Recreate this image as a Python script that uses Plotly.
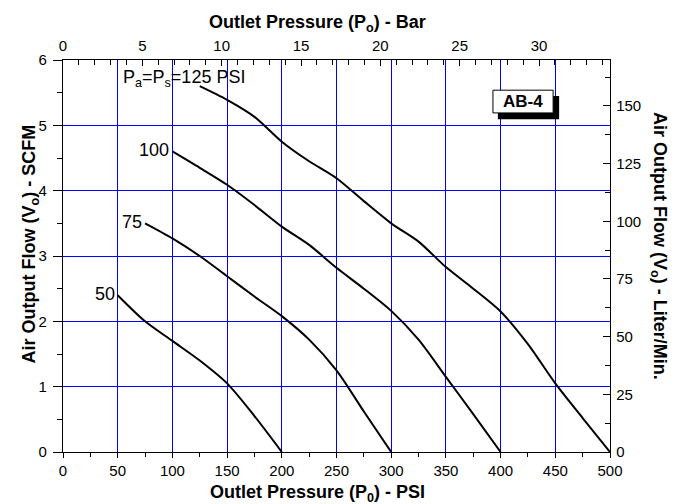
import plotly.graph_objects as go

# ---- data ----
psi_50 = [50, 75, 100, 125, 150, 175, 200]
scfm_50 = [2.4, 2.0, 1.7, 1.4, 1.05, 0.55, 0.0]

psi_75 = [75, 100, 125, 150, 175, 200, 225, 250, 275, 300]
scfm_75 = [3.5, 3.27, 3.0, 2.69, 2.38, 2.08, 1.72, 1.25, 0.62, 0.0]

psi_100 = [100, 125, 150, 175, 200, 225, 250, 275, 300, 325, 350, 375, 400]
scfm_100 = [4.6, 4.35, 4.09, 3.78, 3.45, 3.17, 2.82, 2.5, 2.16, 1.72, 1.15, 0.58, 0.0]

psi_125 = [125, 150, 175, 200, 225, 250, 275, 300, 325, 350, 375, 400, 425, 450, 475, 500]
scfm_125 = [5.6, 5.39, 5.13, 4.75, 4.45, 4.19, 3.84, 3.5, 3.22, 2.83, 2.5, 2.15, 1.65, 1.05, 0.52, 0.0]

series_labels = ["50", "75", "100", "P<sub>a</sub>=P<sub>s</sub>=125 PSI"]

psi_ticks = [0, 50, 100, 150, 200, 250, 300, 350, 400, 450, 500]
bar_ticks = [0, 5, 10, 15, 20, 25, 30]
scfm_ticks = [0, 1, 2, 3, 4, 5, 6]
lpm_ticks = [0, 25, 50, 75, 100, 125, 150]

PSI_PER_BAR = 14.5038
LPM_PER_SCFM = 28.3168
PSI_MAX = 500
SCFM_MAX = 6

FONT = "Liberation Sans, Arial, Helvetica, sans-serif"
GRID = "#0000FF"

fig = go.Figure()
curves = [(psi_50, scfm_50), (psi_75, scfm_75), (psi_100, scfm_100), (psi_125, scfm_125)]
for xs, ys in curves:
    fig.add_trace(go.Scatter(
        x=xs, y=ys, mode="lines",
        line=dict(color="black", width=2, shape="spline", smoothing=0.8),
        showlegend=False, hoverinfo="skip"))

# empty trace to activate secondary axes
fig.add_trace(go.Scatter(x=[None], y=[None], xaxis="x2", yaxis="y2",
                         showlegend=False, hoverinfo="skip"))

axis_common = dict(showline=True, linecolor="black", linewidth=1.3,
                   tickcolor="black", tickwidth=1, zeroline=False, automargin=False,
                   tickfont=dict(family=FONT, size=15, color="black"))

# page body has an 8px default margin -> figure is 8px smaller and offset
fig.update_layout(
    template="none",
    width=676, height=496,
    margin=dict(l=55, r=74, t=52, b=52, pad=0),
    paper_bgcolor="white", plot_bgcolor="white",
    font=dict(family=FONT, size=15, color="black"),
    showlegend=False,
    xaxis=dict(range=[0, PSI_MAX], tickmode="array", tickvals=psi_ticks,
               ticks="outside", ticklen=5, ticklabelstandoff=0,
               showgrid=True, gridcolor=GRID, gridwidth=1,
               minor=dict(tickmode="linear", tick0=0, dtick=25, ticks="outside",
                          ticklen=4, tickcolor="black", showgrid=False),
               **axis_common),
    xaxis2=dict(overlaying="x", side="top", range=[0, PSI_MAX / PSI_PER_BAR],
                tickmode="array", tickvals=bar_ticks,
                ticks="inside", ticklen=6, ticklabelstandoff=2, showgrid=False,
                minor=dict(tickmode="linear", tick0=0, dtick=1, ticks="inside",
                           ticklen=5, tickcolor="black", showgrid=False),
                **axis_common),
    yaxis=dict(range=[0, SCFM_MAX], tickmode="array", tickvals=scfm_ticks,
               ticks="outside", ticklen=9, ticklabelstandoff=3,
               showgrid=True, gridcolor=GRID, gridwidth=1,
               minor=dict(tickmode="linear", tick0=0, dtick=0.5, ticks="outside",
                          ticklen=5, tickcolor="black", showgrid=False),
               **axis_common),
    yaxis2=dict(overlaying="y", side="right", range=[0, SCFM_MAX * LPM_PER_SCFM],
                tickmode="array", tickvals=lpm_ticks,
                ticks="inside", ticklen=7, ticklabelstandoff=2, showgrid=False,
                minor=dict(tickmode="linear", tick0=0, dtick=12.5, ticks="inside",
                           ticklen=5, tickcolor="black", showgrid=False),
                **axis_common),
)

title_font = dict(family=FONT, size=18, color="black")
ann = []
ann.append(dict(text="<b>Outlet Pressure (P<sub>o</sub>) - Bar</b>", xref="paper", yref="paper",
                x=0.466, y=1.094, xanchor="center", yanchor="middle", showarrow=False, font=title_font))
ann.append(dict(text="<b>Outlet Pressure (P<sub>0</sub>) - PSI</b>", xref="paper", yref="paper",
                x=0.466, y=-0.106, xanchor="center", yanchor="middle", showarrow=False, font=title_font))
ann.append(dict(text="<b>Air Output Flow (V<sub>o</sub>) - SCFM</b>", xref="paper", yref="paper",
                x=-0.06, y=0.53, xanchor="center", yanchor="middle", textangle=-90,
                showarrow=False, font=title_font))
ann.append(dict(text="<b>Air Output Flow (V<sub>o</sub>) - Liter/Min.</b>", xref="paper", yref="paper",
                x=1.09, y=0.525, xanchor="center", yanchor="middle", textangle=90,
                showarrow=False, font=title_font))

label_font = dict(family=FONT, size=18, color="black")
for (xs, ys), lab in zip(curves[:3], series_labels[:3]):
    ann.append(dict(text=lab, x=xs[0], y=ys[0], xref="x", yref="y",
                    xanchor="right", yanchor="middle", xshift=-1, yshift=1,
                    showarrow=False, font=label_font))
ann.append(dict(text=series_labels[3], x=(124 - 63) / 547 * PSI_MAX, y=5.72, xref="x", yref="y",
                xanchor="left", yanchor="middle", xshift=-3, yshift=0,
                showarrow=False, font=label_font))

# AB-4 box
ann.append(dict(text="<b>AB-4</b>", xref="paper", yref="paper", x=0.841, y=0.894,
                xanchor="center", yanchor="middle", showarrow=False,
                font=dict(family=FONT, size=17, color="black")))
fig.update_layout(annotations=ann)

fig.add_shape(type="rect", xref="paper", yref="paper", x0=0.795, x1=0.907, y0=0.849, y1=0.908,
              fillcolor="black", line=dict(width=0), layer="above")
fig.add_shape(type="rect", xref="paper", yref="paper", x0=0.786, x1=0.896, y0=0.865, y1=0.923,
              fillcolor="white", line=dict(color="black", width=1), layer="above")

fig.write_html("out.html")
